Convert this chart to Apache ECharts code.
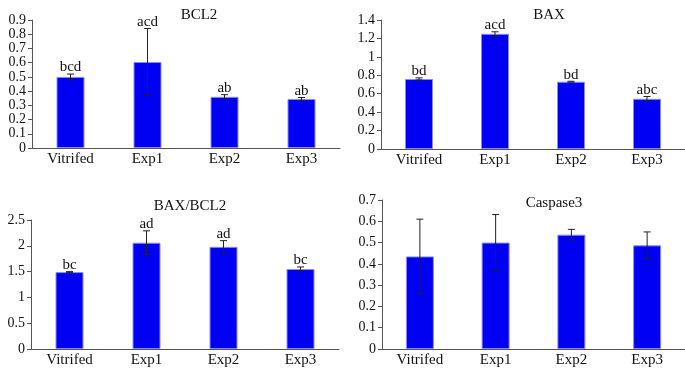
<!DOCTYPE html>
<html><head><meta charset="utf-8">
<script src="https://cdn.jsdelivr.net/npm/echarts@6/dist/echarts.min.js"></script>
<style>html,body{margin:0;padding:0;background:#fff}#c{width:685px;height:373px}</style>
</head><body><div id="c"></div>
<script>
const categories = ['Vitrifed', 'Exp1', 'Exp2', 'Exp3'];
const bcl2Mean = [0.50, 0.605, 0.36, 0.345];
const bcl2Err = [0.02, 0.235, 0.015, 0.01];
const bcl2Letters = ['bcd', 'acd', 'ab', 'ab'];
const baxMean = [0.76, 1.25, 0.73, 0.545];
const baxErr = [0.012, 0.022, 0.005, 0.025];
const baxLetters = ['bd', 'acd', 'bd', 'abc'];
const ratioMean = [1.49, 2.06, 1.98, 1.55];
const ratioErr = [0.01, 0.23, 0.12, 0.04];
const ratioLetters = ['bc', 'ad', 'ad', 'bc'];
const caspMean = [0.435, 0.50, 0.537, 0.487];
const caspErr = [0.175, 0.132, 0.025, 0.063];
const caspLetters = ['', '', '', ''];

const yTicks = [
  {min: 0, max: 0.9, interval: 0.1},
  {min: 0, max: 1.4, interval: 0.2},
  {min: 0, max: 2.5, interval: 0.5},
  {min: 0, max: 0.7, interval: 0.1}
];
const panels = [
  {title: 'BCL2', mean: bcl2Mean, err: bcl2Err, letters: bcl2Letters},
  {title: 'BAX', mean: baxMean, err: baxErr, letters: baxLetters},
  {title: 'BAX/BCL2', mean: ratioMean, err: ratioErr, letters: ratioLetters},
  {title: 'Caspase3', mean: caspMean, err: caspErr, letters: caspLetters}
];

const FONT = '"Liberation Serif", "DejaVu Serif", serif';
const grids = [
  {left: 32, top: 20, width: 308, height: 128},
  {left: 381, top: 20, width: 308, height: 129},
  {left: 31, top: 220, width: 308, height: 129},
  {left: 382, top: 200, width: 312, height: 149}
];
const titlePos = [[199, 15], [549, 15], [190, 206], [554, 203]];

function makeRender(letters) {
  return function (params, api) {
    const x = api.coord([api.value(0), 0])[0];
    const hi = api.coord([api.value(0), api.value(2)]);
    const lo = api.coord([api.value(0), api.value(1)]);
    const cap = 3.5;
    const st = {stroke: '#222', lineWidth: 1};
    const children = [
      {type: 'line', shape: {x1: x, y1: hi[1], x2: x, y2: lo[1]}, style: st},
      {type: 'line', shape: {x1: x - cap, y1: hi[1], x2: x + cap, y2: hi[1]}, style: st},
      {type: 'line', shape: {x1: x - cap, y1: lo[1], x2: x + cap, y2: lo[1]}, style: st}
    ];
    const t = letters[params.dataIndex];
    if (t) {
      children.push({type: 'text', x: x, y: hi[1] + 1,
        style: {text: t, fill: '#111', font: '15px ' + FONT, textAlign: 'center', textVerticalAlign: 'bottom'}});
    }
    return {type: 'group', children: children};
  };
}

const option = {
  animation: false,
  backgroundColor: '#fff',
  grid: grids,
  xAxis: grids.map((g, i) => ({
    type: 'category', gridIndex: i, data: categories,
    axisLine: {lineStyle: {color: '#555', width: 1}},
    axisTick: {show: false},
    axisLabel: {color: '#111', fontFamily: FONT, fontSize: 15, margin: 4}
  })),
  yAxis: grids.map((g, i) => ({
    type: 'value', gridIndex: i, min: yTicks[i].min, max: yTicks[i].max, interval: yTicks[i].interval,
    axisLine: {show: true, lineStyle: {color: '#555', width: 1}},
    axisTick: {show: true, length: 4, lineStyle: {color: '#555'}},
    splitLine: {show: false},
    axisLabel: {color: '#111', fontFamily: FONT, fontSize: 14, margin: 6,
      showMinLabel: true, showMaxLabel: true, hideOverlap: false}
  })),
  series: [],
  graphic: panels.map((p, i) => ({
    type: 'text', x: titlePos[i][0], y: titlePos[i][1],
    style: {text: p.title, fill: '#111', font: '15px ' + FONT, textAlign: 'center', textVerticalAlign: 'middle'}
  }))
};

panels.forEach((p, i) => {
  option.series.push({
    type: 'bar', xAxisIndex: i, yAxisIndex: i, data: p.mean, barWidth: 28,
    itemStyle: {color: '#0000f2', borderColor: '#8a8aff', borderWidth: 1}
  });
  option.series.push({
    type: 'custom', xAxisIndex: i, yAxisIndex: i, z: 5,
    renderItem: makeRender(p.letters),
    data: p.mean.map((m, k) => [k, m - p.err[k], m + p.err[k]])
  });
});

echarts.init(document.getElementById('c'), null, {renderer: 'canvas'}).setOption(option);
</script></body></html>
